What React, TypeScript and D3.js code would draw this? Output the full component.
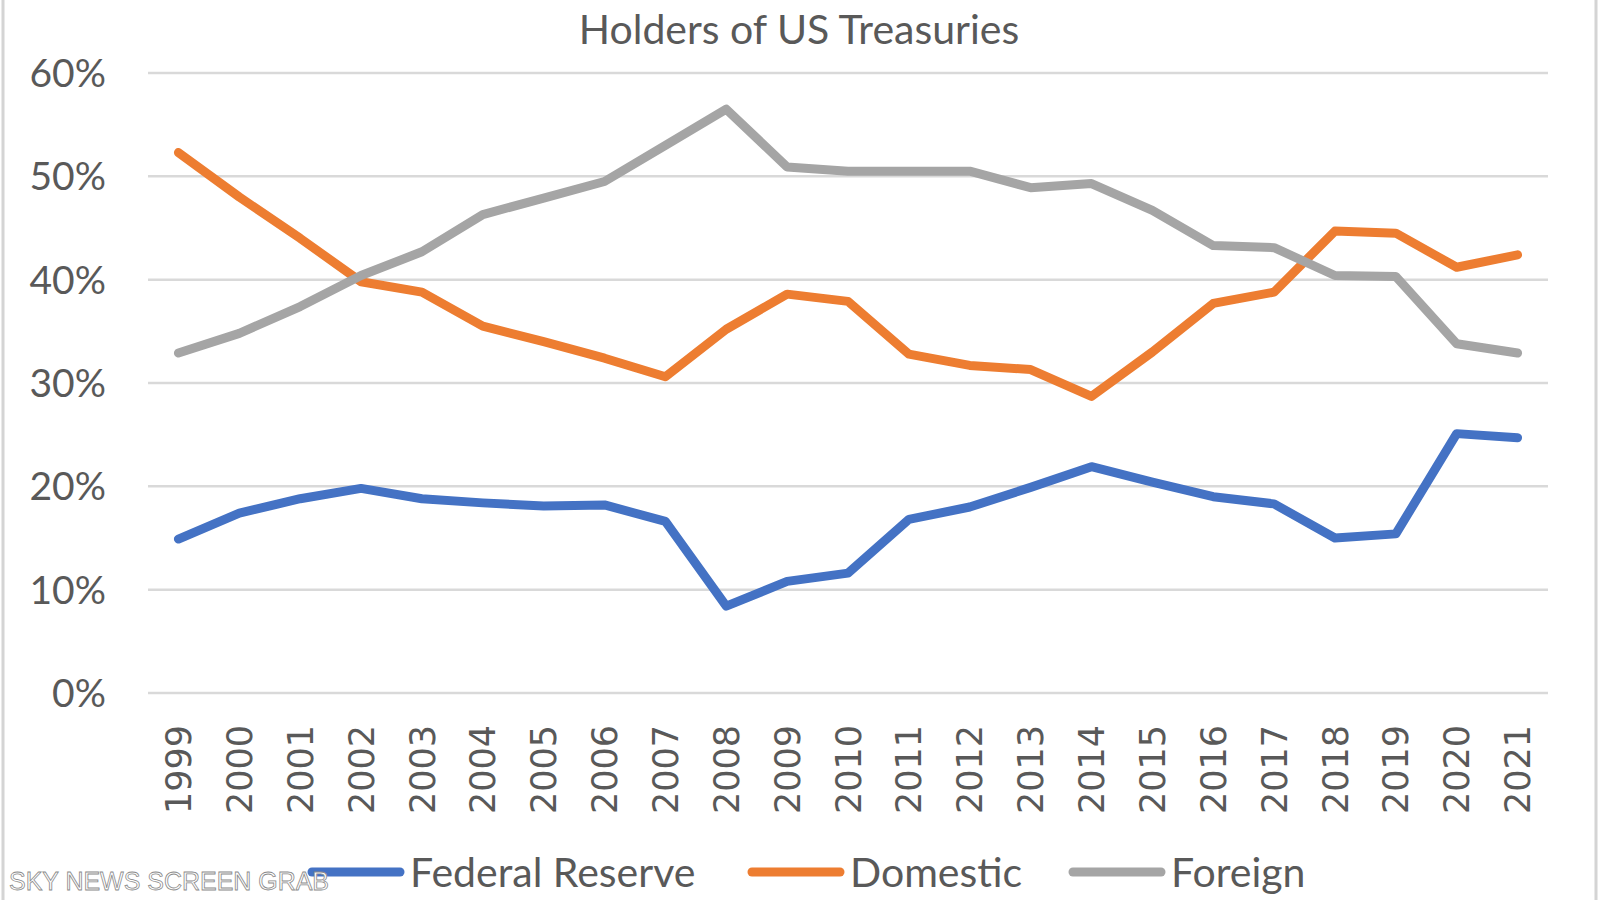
import React from "react";
import * as d3 from "d3";

const years = ["1999","2000","2001","2002","2003","2004","2005","2006","2007","2008","2009","2010","2011","2012","2013","2014","2015","2016","2017","2018","2019","2020","2021"];
const federalReserve = [14.9,17.4,18.8,19.8,18.8,18.4,18.1,18.2,16.6,8.4,10.8,11.6,16.8,18.0,19.9,21.9,20.4,19.0,18.3,15.0,15.4,25.1,24.7];
const domestic = [52.3,48.0,44.0,39.8,38.8,35.5,34.0,32.4,30.6,35.2,38.6,37.9,32.8,31.7,31.3,28.7,33.0,37.7,38.8,44.7,44.5,41.2,42.4];
const foreign = [32.9,34.8,37.4,40.4,42.7,46.3,47.9,49.5,53.0,56.5,50.9,50.5,50.5,50.5,48.9,49.3,46.7,43.3,43.1,40.4,40.3,33.8,32.9];
const yTicks = [0,10,20,30,40,50,60];
const seriesNames = ["Federal Reserve","Domestic","Foreign"];
const seriesColors = ["#4472C4","#ED7D31","#A5A5A5"];
const title = "Holders of US Treasuries";

const W = 1600, H = 900;
const plotLeft = 148, plotRight = 1548, plotTop = 73, plotBottom = 693;

export default function App() {
  const x = d3.scaleBand<string>().domain(years).range([plotLeft, plotRight]);
  const y = d3.scaleLinear().domain([0, 60]).range([plotBottom, plotTop]);
  const cx = (d: string) => (x(d) as number) + x.bandwidth() / 2;
  const line = d3.line<number>().x((_, i) => cx(years[i])).y((v) => y(v));
  const allSeries = [federalReserve, domestic, foreign];
  const uiFont = "Lato, 'Open Sans', sans-serif";
  const legendX = [312, 752, 1073];

  return (
    <div style={{ position: "fixed", left: 0, top: 0 }}>
      <svg width={W} height={H} style={{ display: "block", background: "#fff" }}>
        <rect x={0} y={0} width={W} height={H} fill="#ffffff" />
        <line x1={3} x2={3} y1={0} y2={H} stroke="#d4d4d4" strokeWidth={3} />
        <line x1={1596} x2={1596} y1={0} y2={H} stroke="#d4d4d4" strokeWidth={3} />
        <text x={799} y={44} textAnchor="middle" fontFamily={uiFont} fontSize={41} fill="#595959">{title}</text>
        {yTicks.map((t) => (
          <g key={t}>
            <line x1={plotLeft} x2={plotRight} y1={y(t)} y2={y(t)} stroke="#d9d9d9" strokeWidth={2.5} />
            <text x={106} y={y(t)} dy="0.36em" textAnchor="end" fontFamily={uiFont} fontSize={39} fill="#595959">{t}%</text>
          </g>
        ))}
        {years.map((yr) => (
          <text key={yr} transform={`translate(${cx(yr)},725) rotate(-90)`} textAnchor="end" dy="0.36em"
            fontFamily="'DejaVu Sans', Verdana, sans-serif" fontSize={35} fill="#595959">{yr}</text>
        ))}
        {allSeries.map((s, i) => (
          <path key={i} d={line(s) || ""} fill="none" stroke={seriesColors[i]} strokeWidth={9}
            strokeLinejoin="round" strokeLinecap="round" />
        ))}
        {seriesNames.map((n, i) => (
          <g key={n}>
            <line x1={legendX[i]} x2={legendX[i] + 88} y1={872} y2={872} stroke={seriesColors[i]} strokeWidth={9} strokeLinecap="round" />
            <text x={legendX[i] + 98} y={872} dy="0.36em" fontFamily={uiFont} fontSize={41} fill="#595959">{n}</text>
          </g>
        ))}
        <text x={9} y={890} fontFamily="'Liberation Sans Narrow', 'Liberation Sans', Arial, sans-serif" fontSize={25}
          textLength={320} lengthAdjust="spacingAndGlyphs" fill="#ffffff" stroke="#8a8a8a" strokeWidth={0.8}>SKY NEWS SCREEN GRAB</text>
      </svg>
    </div>
  );
}
